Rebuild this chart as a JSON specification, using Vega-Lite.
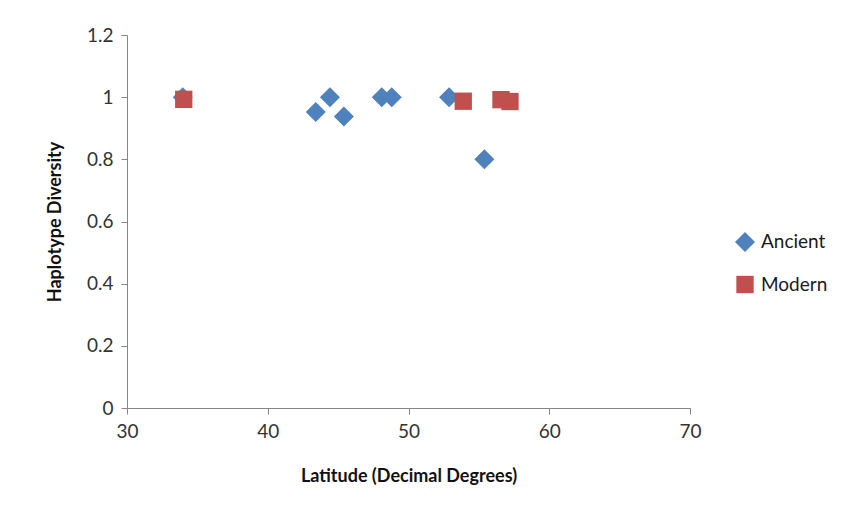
{
  "$schema": "https://vega.github.io/schema/vega-lite/v6.json",
  "autosize": {"type": "none"},
  "padding": {"left": 127, "top": 35, "right": 159, "bottom": 107},
  "width": 563,
  "height": 373,
  "background": "white",
  "data": {
    "values": [
      {"series": "Ancient", "lat": 33.96, "hd": 1.0},
      {"series": "Ancient", "lat": 43.41, "hd": 0.952},
      {"series": "Ancient", "lat": 44.42, "hd": 1.0},
      {"series": "Ancient", "lat": 45.41, "hd": 0.938},
      {"series": "Ancient", "lat": 48.10, "hd": 1.0},
      {"series": "Ancient", "lat": 48.81, "hd": 1.0},
      {"series": "Ancient", "lat": 52.88, "hd": 1.0},
      {"series": "Ancient", "lat": 55.39, "hd": 0.80},
      {"series": "Modern", "lat": 34.03, "hd": 0.993},
      {"series": "Modern", "lat": 53.89, "hd": 0.987},
      {"series": "Modern", "lat": 56.57, "hd": 0.992},
      {"series": "Modern", "lat": 57.21, "hd": 0.986}
    ]
  },
  "mark": {"type": "point", "filled": true, "opacity": 1, "strokeWidth": 0},
  "encoding": {
    "x": {
      "field": "lat", "type": "quantitative",
      "scale": {"domain": [30, 70], "nice": false, "zero": false},
      "axis": {"values": [30, 40, 50, 60, 70], "title": "Latitude (Decimal Degrees)", "grid": false,
               "labelFontSize": 19, "titleFontSize": 18, "titleFontWeight": "bold", "titlePadding": 26,
               "labelPadding": 8, "tickSize": 6, "labelFlush": false}
    },
    "y": {
      "field": "hd", "type": "quantitative",
      "scale": {"domain": [0, 1.2], "nice": false},
      "axis": {"values": [0, 0.2, 0.4, 0.6, 0.8, 1, 1.2], "title": "Haplotype Diversity", "grid": false,
               "labelFontSize": 19, "titleFontSize": 18, "titleFontWeight": "bold", "titlePadding": 22,
               "labelPadding": 8, "tickSize": 6, "format": "~g", "labelFlush": false}
    },
    "shape": {
      "field": "series", "type": "nominal",
      "scale": {"domain": ["Ancient", "Modern"], "range": ["diamond", "square"]},
      "legend": null
    },
    "color": {
      "field": "series", "type": "nominal",
      "scale": {"domain": ["Ancient", "Modern"], "range": ["#4F81BD", "#C0504D"]},
      "legend": {"title": null, "orient": "none", "legendX": 608, "legendY": 197,
                 "labelFontSize": 19, "symbolSize": 200, "rowPadding": 23, "padding": 0,
                 "symbolStrokeWidth": 0, "labelColor": "#1a1a1a", "labelOffset": 6}
    },
    "size": {
      "field": "series", "type": "nominal",
      "scale": {"domain": ["Ancient", "Modern"], "range": [400, 300]},
      "legend": null
    }
  },
  "config": {
    "font": "Lato",
    "view": {"stroke": null},
    "axis": {"domainColor": "#868686", "tickColor": "#868686", "labelColor": "#333333", "titleColor": "#111111", "labelFont": "Lato", "titleFont": "Lato"},
    "legend": {"labelFont": "Lato"}
  }
}
